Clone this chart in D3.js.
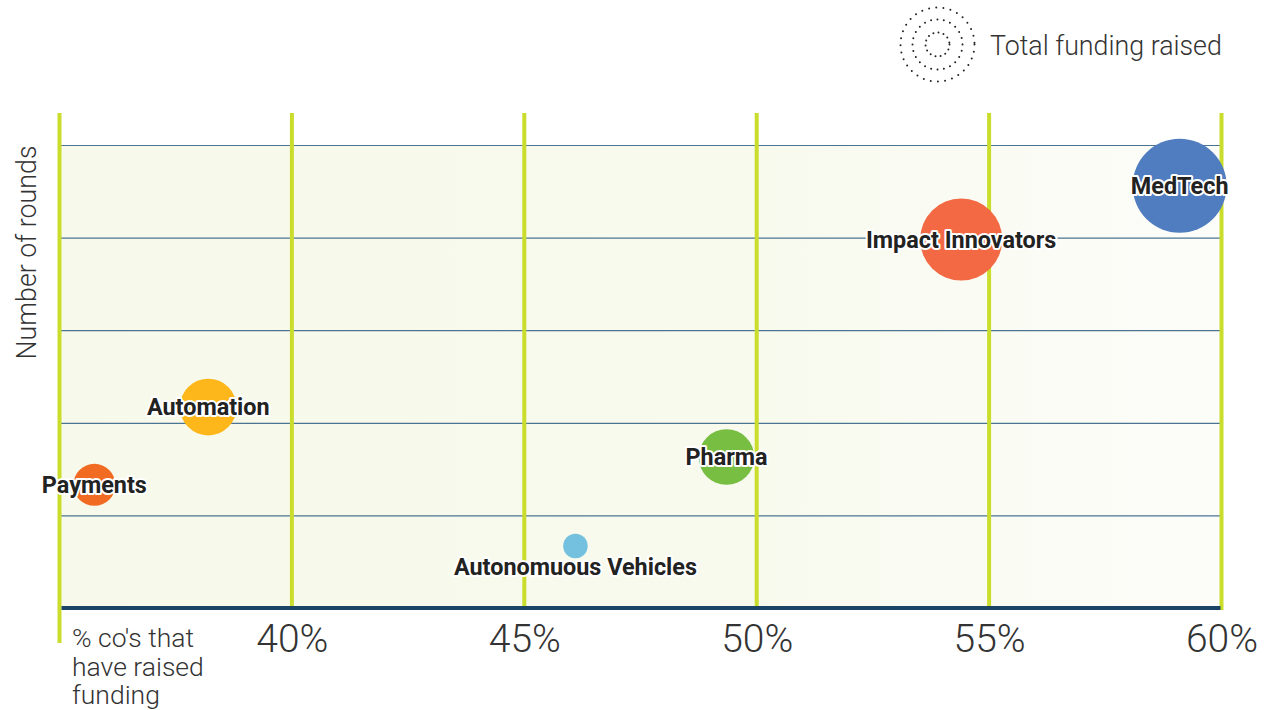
<!DOCTYPE html>
<html>
<head>
<meta charset="utf-8">
<script src="https://cdn.jsdelivr.net/npm/d3@7/dist/d3.min.js"></script>
<style>
  html, body { margin: 0; padding: 0; background: #ffffff; }
  svg { display: block; font-family: Roboto, "Noto Sans", sans-serif; }
</style>
</head>
<body>
<svg id="chart" width="1283" height="710"></svg>
<script>
// ---- data ----
const sectors = ["MedTech", "Impact Innovators", "Automation", "Payments", "Autonomuous Vehicles", "Pharma"];
const pctRaised = [59.1, 54.4, 38.2, 35.75, 46.1, 49.35];   // % co's that have raised funding
const rounds = [4.56, 3.98, 2.17, 1.33, 0.67, 1.63];          // number of rounds
const totalFunding = [2.2, 1.68, 0.8, 0.44, 0.15, 0.77];      // total funding raised (relative)
const colors = ["#507dc0", "#f26944", "#fdb71a", "#f26b22", "#74c1df", "#78be43"];
const xTicks = [40, 45, 50, 55, 60];
const xGridVals = [35, 40, 45, 50, 55, 60];
const yGridVals = [1, 2, 3, 4, 5];
const xTitleLines = ["% co's that", "have raised", "funding"];
const yTitle = "Number of rounds";
const legendLabel = "Total funding raised";

(function () {
// ---- layout ----
const svg = d3.select("#chart");
const pL = 59.5, pR = 1221.5, pT = 145, pB = 608;
const x = d3.scaleLinear().domain([35, 60]).range([pL, pR]);
const y = d3.scaleLinear().domain([0, 5]).range([pB, pT]);
const r = d3.scaleSqrt().domain([0, d3.max(totalFunding)]).range([0, 47]);

// background gradient
const defs = svg.append("defs");
const grad = defs.append("linearGradient").attr("id", "bg").attr("x1", "0").attr("x2", "1").attr("y1", "0").attr("y2", "0");
grad.append("stop").attr("offset", "0%").attr("stop-color", "#f7f9ea");
grad.append("stop").attr("offset", "60%").attr("stop-color", "#f8faee");
grad.append("stop").attr("offset", "100%").attr("stop-color", "#fcfdf9");
svg.append("rect").attr("x", pL).attr("y", pT).attr("width", pR - pL).attr("height", pB - pT).attr("fill", "url(#bg)");

// horizontal gridlines
svg.append("g").selectAll("line").data(yGridVals).join("line")
  .attr("x1", pL).attr("x2", pR)
  .attr("y1", d => y(d) + 0.5).attr("y2", d => y(d) + 0.5)
  .attr("stroke", "#4b7493").attr("stroke-width", 1.2);

// vertical gridlines
svg.append("g").selectAll("line").data(xGridVals).join("line")
  .attr("x1", d => x(d)).attr("x2", d => x(d))
  .attr("y1", 113).attr("y2", d => d === 35 ? 643 : 610)
  .attr("stroke", "#cadd2c").attr("stroke-width", 4);

// bottom axis line
svg.append("line").attr("x1", pL + 2).attr("x2", pR - 1).attr("y1", 608).attr("y2", 608)
  .attr("stroke", "#1a4567").attr("stroke-width", 4);

// x tick labels via axis
const xAxis = d3.axisBottom(x).tickValues(xTicks).tickFormat(d => d + "%").tickSize(0).tickPadding(0);
const gx = svg.append("g").attr("transform", "translate(0, 624)").call(xAxis);
gx.select(".domain").remove();
gx.selectAll("text").attr("font-size", 39).attr("font-weight", 300).attr("fill", "#333")
  .attr("font-family", "Roboto, sans-serif").attr("dy", "0.71em");

// x title
svg.append("text").attr("x", 72).attr("y", 647).attr("font-size", 26.5).attr("font-weight", 300).attr("fill", "#333")
  .selectAll("tspan").data(xTitleLines).join("tspan")
  .attr("x", 72).attr("dy", (d, i) => i === 0 ? 0 : 28.5).text(d => d);

// y title
svg.append("text").attr("transform", "translate(36, 252.5) rotate(-90)").attr("text-anchor", "middle")
  .attr("font-size", 26.8).attr("font-weight", 300).attr("fill", "#333").text(yTitle);

// legend
const lg = svg.append("g").attr("transform", "translate(937.5, 44.5)");
[37, 25, 12].forEach(rr => {
  lg.append("circle").attr("r", rr).attr("fill", "none").attr("stroke", "#222")
    .attr("stroke-width", 2).attr("stroke-linecap", "round")
    .attr("stroke-dasharray", `0 ${rr > 30 ? 7.2 : rr > 20 ? 6.5 : 5.2}`);
});
svg.append("text").attr("x", 990).attr("y", 55).attr("font-size", 26.8).attr("font-weight", 300).attr("fill", "#333").text(legendLabel);

// bubbles
const idx = d3.range(sectors.length);
svg.append("g").selectAll("circle").data(idx).join("circle")
  .attr("cx", i => x(pctRaised[i])).attr("cy", i => y(rounds[i]))
  .attr("r", i => r(totalFunding[i])).attr("fill", i => colors[i]);

// labels
svg.append("g").selectAll("text").data(idx).join("text")
  .attr("x", i => x(pctRaised[i]))
  .attr("y", i => r(totalFunding[i]) < 15 ? y(rounds[i]) + r(totalFunding[i]) + 9 : y(rounds[i]))
  .attr("dy", "0.35em").attr("text-anchor", "middle")
  .attr("font-size", 23.4).attr("font-weight", 700).attr("fill", "#222")
  .attr("stroke", "#ffffff").attr("stroke-width", 4).attr("stroke-linejoin", "round")
  .attr("paint-order", "stroke")
  .text(i => sectors[i]);
})();
</script>
</body>
</html>
